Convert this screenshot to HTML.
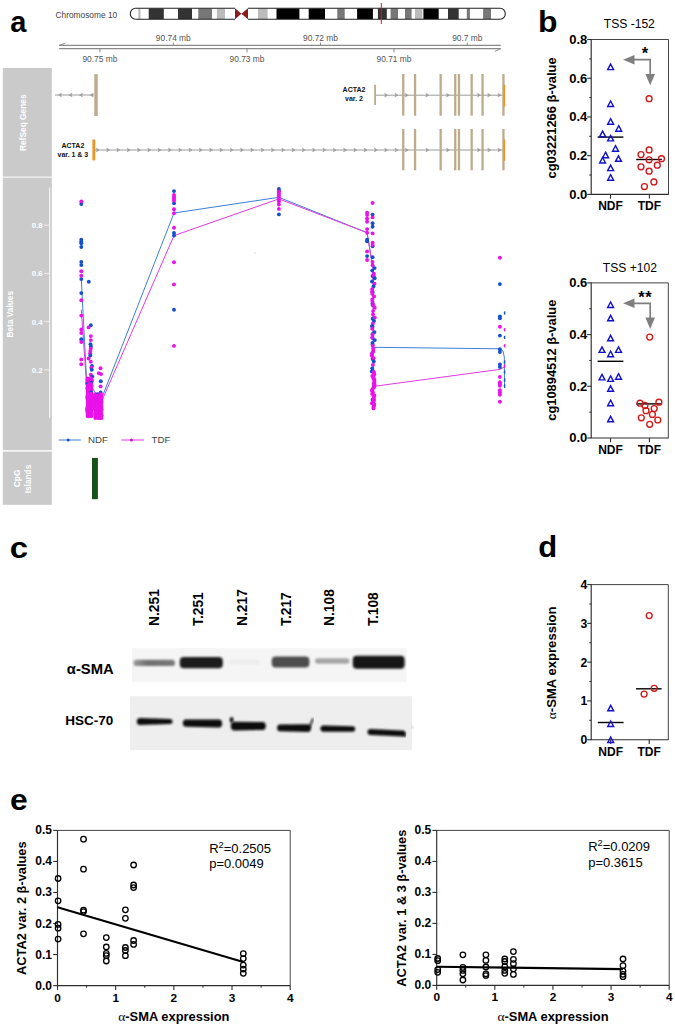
<!DOCTYPE html>
<html><head><meta charset="utf-8"><title>Figure</title>
<style>html,body{margin:0;padding:0;background:#fff;}svg{display:block;}</style></head>
<body><svg width="675" height="1026" viewBox="0 0 675 1026">
<rect width="675" height="1026" fill="#fff"/>
<text x="10.2" y="32.1" font-size="29" font-weight="bold" fill="#000" text-anchor="start" font-family='"Liberation Sans", sans-serif'>a</text>
<text x="55.5" y="17.8" font-size="8.35" font-weight="normal" fill="#444" text-anchor="start" font-family='"Liberation Sans", sans-serif'>Chromosome 10</text>
<clipPath id="ideo"><rect x="130.3" y="8.3" width="375.0" height="10.899999999999999" rx="5.2" ry="5.4"/></clipPath>
<rect x="130.3" y="8.3" width="375.0" height="10.899999999999999" rx="5.2" ry="5.4" fill="#fff"/>
<g clip-path="url(#ideo)">
<rect x="138.3" y="8.3" width="2.2" height="10.899999999999999" fill="#bbb"/>
<rect x="148.7" y="8.3" width="15.1" height="10.899999999999999" fill="#333"/>
<rect x="178" y="8.3" width="14" height="10.899999999999999" fill="#333"/>
<rect x="198.3" y="8.3" width="13.7" height="10.899999999999999" fill="#777"/>
<rect x="216.9" y="8.3" width="8.1" height="10.899999999999999" fill="#bbb"/>
<rect x="258" y="8.3" width="9.6" height="10.899999999999999" fill="#bbb"/>
<rect x="276.5" y="8.3" width="22.9" height="10.899999999999999" fill="#000"/>
<rect x="308.7" y="8.3" width="16.3" height="10.899999999999999" fill="#000"/>
<rect x="337.3" y="8.3" width="7.4" height="10.899999999999999" fill="#777"/>
<rect x="357.1" y="8.3" width="15.8" height="10.899999999999999" fill="#000"/>
<rect x="377.9" y="8.3" width="8.9" height="10.899999999999999" fill="#333"/>
<rect x="390.6" y="8.3" width="7.4" height="10.899999999999999" fill="#777"/>
<rect x="405" y="8.3" width="6.6" height="10.899999999999999" fill="#777"/>
<rect x="415" y="8.3" width="7.4" height="10.899999999999999" fill="#bbb"/>
<rect x="423.4" y="8.3" width="15.3" height="10.899999999999999" fill="#000"/>
<rect x="448" y="8.3" width="10.7" height="10.899999999999999" fill="#333"/>
<rect x="466.8" y="8.3" width="3.1" height="10.899999999999999" fill="#777"/>
<rect x="483.1" y="8.3" width="7.9" height="10.899999999999999" fill="#777"/>
</g>
<rect x="234.5" y="7.300000000000001" width="14" height="12.899999999999999" fill="#fff"/>
<path d="M235,8.3 L241.4,13.75 L235,19.2 Z M248,8.3 L241.4,13.75 L248,19.2 Z" fill="#8b1c1c"/>
<path d="M135.5,8.3 H235 M248,8.3 H500.1 M135.5,19.2 H235 M248,19.2 H500.1" stroke="#222" stroke-width="1.1" fill="none"/>
<path d="M135.5,8.3 A5.2,5.45 0 0 0 135.5,19.2 M500.1,8.3 A5.2,5.45 0 0 1 500.1,19.2" stroke="#222" stroke-width="1.1" fill="none"/>
<line x1="381.3" y1="3" x2="381.3" y2="24" stroke="#d42020" stroke-width="1"/>
<line x1="59.1" y1="45.4" x2="500.7" y2="45.4" stroke="#8a8a8a" stroke-width="1.25"/>
<line x1="59.1" y1="48.7" x2="500.7" y2="48.7" stroke="#8a8a8a" stroke-width="1.25"/>
<line x1="59.4" y1="45.4" x2="65.4" y2="43.0" stroke="#8a8a8a" stroke-width="1"/>
<line x1="500.7" y1="48.7" x2="494.8" y2="51.4" stroke="#8a8a8a" stroke-width="1"/>
<line x1="99.9" y1="48.7" x2="99.9" y2="52.4" stroke="#8a8a8a" stroke-width="1"/>
<text x="99.9" y="62.1" font-size="8.4" font-weight="normal" fill="#555" text-anchor="middle" font-family='"Liberation Sans", sans-serif'>90.75 mb</text>
<line x1="247" y1="48.7" x2="247" y2="52.4" stroke="#8a8a8a" stroke-width="1"/>
<text x="247" y="62.1" font-size="8.4" font-weight="normal" fill="#555" text-anchor="middle" font-family='"Liberation Sans", sans-serif'>90.73 mb</text>
<line x1="394" y1="48.7" x2="394" y2="52.4" stroke="#8a8a8a" stroke-width="1"/>
<text x="394" y="62.1" font-size="8.4" font-weight="normal" fill="#555" text-anchor="middle" font-family='"Liberation Sans", sans-serif'>90.71 mb</text>
<line x1="173.3" y1="45.4" x2="173.3" y2="42.5" stroke="#8a8a8a" stroke-width="1"/>
<text x="173.3" y="40.5" font-size="8.4" font-weight="normal" fill="#555" text-anchor="middle" font-family='"Liberation Sans", sans-serif'>90.74 mb</text>
<line x1="320.5" y1="45.4" x2="320.5" y2="42.5" stroke="#8a8a8a" stroke-width="1"/>
<text x="320.5" y="40.5" font-size="8.4" font-weight="normal" fill="#555" text-anchor="middle" font-family='"Liberation Sans", sans-serif'>90.72 mb</text>
<line x1="467.3" y1="45.4" x2="467.3" y2="42.5" stroke="#8a8a8a" stroke-width="1"/>
<text x="467.3" y="40.5" font-size="8.4" font-weight="normal" fill="#555" text-anchor="middle" font-family='"Liberation Sans", sans-serif'>90.7 mb</text>
<rect x="2.8" y="68" width="49" height="108.6" fill="#cacaca"/>
<rect x="2.8" y="177.6" width="49" height="272.6" fill="#cacaca"/>
<rect x="2.8" y="451.6" width="49" height="53.2" fill="#cacaca"/>
<text x="26.1" y="122.7" font-size="8.4" font-weight="bold" fill="#fff" text-anchor="middle" font-family='"Liberation Sans", sans-serif' transform="rotate(-90 26.1 122.7)">RefSeq Genes</text>
<text x="13.4" y="314.2" font-size="8.3" font-weight="bold" fill="#fff" text-anchor="middle" font-family='"Liberation Sans", sans-serif' transform="rotate(-90 13.4 314.2)">Beta Values</text>
<text x="19.9" y="478.4" font-size="8.3" font-weight="bold" fill="#fff" text-anchor="middle" font-family='"Liberation Sans", sans-serif' transform="rotate(-90 19.9 478.4)">CpG</text>
<text x="31.1" y="479" font-size="8.3" font-weight="bold" fill="#fff" text-anchor="middle" font-family='"Liberation Sans", sans-serif' transform="rotate(-90 31.1 479)">Islands</text>
<line x1="49.6" y1="187.8" x2="49.6" y2="417.8" stroke="#f4f4f4" stroke-width="1.2"/>
<line x1="44.1" y1="225.2" x2="49.5" y2="225.2" stroke="#f4f4f4" stroke-width="0.9"/>
<text x="42.6" y="228.1" font-size="7.8" font-weight="bold" fill="#fff" text-anchor="end" font-family='"Liberation Sans", sans-serif'>0.8</text>
<line x1="44.1" y1="273.4" x2="49.5" y2="273.4" stroke="#f4f4f4" stroke-width="0.9"/>
<text x="42.6" y="276.29999999999995" font-size="7.8" font-weight="bold" fill="#fff" text-anchor="end" font-family='"Liberation Sans", sans-serif'>0.6</text>
<line x1="44.1" y1="321.6" x2="49.5" y2="321.6" stroke="#f4f4f4" stroke-width="0.9"/>
<text x="42.6" y="324.5" font-size="7.8" font-weight="bold" fill="#fff" text-anchor="end" font-family='"Liberation Sans", sans-serif'>0.4</text>
<line x1="44.1" y1="369.8" x2="49.5" y2="369.8" stroke="#f4f4f4" stroke-width="0.9"/>
<text x="42.6" y="372.7" font-size="7.8" font-weight="bold" fill="#fff" text-anchor="end" font-family='"Liberation Sans", sans-serif'>0.2</text>
<line x1="55" y1="95" x2="94" y2="95" stroke="#9c9c9c" stroke-width="1"/>
<path d="M61.50,93.1 L58.50,95 L61.50,96.9 L60.70,95 Z" fill="#9c9c9c" stroke="#9c9c9c" stroke-width="0.5" stroke-linejoin="round"/>
<path d="M72.00,93.1 L69.00,95 L72.00,96.9 L71.20,95 Z" fill="#9c9c9c" stroke="#9c9c9c" stroke-width="0.5" stroke-linejoin="round"/>
<path d="M82.50,93.1 L79.50,95 L82.50,96.9 L81.70,95 Z" fill="#9c9c9c" stroke="#9c9c9c" stroke-width="0.5" stroke-linejoin="round"/>
<path d="M93.20,93.1 L90.20,95 L93.20,96.9 L92.40,95 Z" fill="#9c9c9c" stroke="#9c9c9c" stroke-width="0.5" stroke-linejoin="round"/>
<rect x="94.3" y="74.2" width="3.4" height="41.8" fill="#bcab8c"/>
<line x1="375" y1="95.2" x2="504" y2="95.2" stroke="#9c9c9c" stroke-width="1"/>
<rect x="374.2" y="84.8" width="1.8" height="20.2" fill="#bcab8c"/>
<path d="M384.70,93.3 L387.70,95.2 L384.70,97.10000000000001 L385.50,95.2 Z" fill="#9c9c9c" stroke="#9c9c9c" stroke-width="0.5" stroke-linejoin="round"/>
<path d="M395.00,93.3 L398.00,95.2 L395.00,97.10000000000001 L395.80,95.2 Z" fill="#9c9c9c" stroke="#9c9c9c" stroke-width="0.5" stroke-linejoin="round"/>
<path d="M405.30,93.3 L408.30,95.2 L405.30,97.10000000000001 L406.10,95.2 Z" fill="#9c9c9c" stroke="#9c9c9c" stroke-width="0.5" stroke-linejoin="round"/>
<path d="M425.90,93.3 L428.90,95.2 L425.90,97.10000000000001 L426.70,95.2 Z" fill="#9c9c9c" stroke="#9c9c9c" stroke-width="0.5" stroke-linejoin="round"/>
<path d="M446.50,93.3 L449.50,95.2 L446.50,97.10000000000001 L447.30,95.2 Z" fill="#9c9c9c" stroke="#9c9c9c" stroke-width="0.5" stroke-linejoin="round"/>
<path d="M477.40,93.3 L480.40,95.2 L477.40,97.10000000000001 L478.20,95.2 Z" fill="#9c9c9c" stroke="#9c9c9c" stroke-width="0.5" stroke-linejoin="round"/>
<path d="M487.70,93.3 L490.70,95.2 L487.70,97.10000000000001 L488.50,95.2 Z" fill="#9c9c9c" stroke="#9c9c9c" stroke-width="0.5" stroke-linejoin="round"/>
<path d="M498.00,93.3 L501.00,95.2 L498.00,97.10000000000001 L498.80,95.2 Z" fill="#9c9c9c" stroke="#9c9c9c" stroke-width="0.5" stroke-linejoin="round"/>
<rect x="402.09999999999997" y="74" width="2.3" height="41.7" fill="#bcab8c"/>
<rect x="413.9" y="74" width="2.3" height="41.7" fill="#bcab8c"/>
<rect x="439.5" y="74" width="2.3" height="41.7" fill="#bcab8c"/>
<rect x="454.09999999999997" y="74" width="2.3" height="41.7" fill="#bcab8c"/>
<rect x="457.79999999999995" y="74" width="2.3" height="41.7" fill="#bcab8c"/>
<rect x="470.5" y="74" width="2.3" height="41.7" fill="#bcab8c"/>
<rect x="481.4" y="74" width="2.3" height="41.7" fill="#bcab8c"/>
<rect x="502.29999999999995" y="74" width="2.3" height="41.7" fill="#bcab8c"/>
<rect x="503.6" y="84.8" width="1.6" height="21.6" fill="#e8962a"/>
<line x1="95" y1="150" x2="504" y2="150" stroke="#9c9c9c" stroke-width="1"/>
<rect x="92.4" y="139.5" width="2.9" height="20.9" fill="#e8962a"/>
<path d="M96.30,148.1 L99.30,150 L96.30,151.9 L97.10,150 Z" fill="#9c9c9c" stroke="#9c9c9c" stroke-width="0.5" stroke-linejoin="round"/>
<path d="M106.60,148.1 L109.60,150 L106.60,151.9 L107.40,150 Z" fill="#9c9c9c" stroke="#9c9c9c" stroke-width="0.5" stroke-linejoin="round"/>
<path d="M116.90,148.1 L119.90,150 L116.90,151.9 L117.70,150 Z" fill="#9c9c9c" stroke="#9c9c9c" stroke-width="0.5" stroke-linejoin="round"/>
<path d="M127.20,148.1 L130.20,150 L127.20,151.9 L128.00,150 Z" fill="#9c9c9c" stroke="#9c9c9c" stroke-width="0.5" stroke-linejoin="round"/>
<path d="M137.50,148.1 L140.50,150 L137.50,151.9 L138.30,150 Z" fill="#9c9c9c" stroke="#9c9c9c" stroke-width="0.5" stroke-linejoin="round"/>
<path d="M147.80,148.1 L150.80,150 L147.80,151.9 L148.60,150 Z" fill="#9c9c9c" stroke="#9c9c9c" stroke-width="0.5" stroke-linejoin="round"/>
<path d="M158.10,148.1 L161.10,150 L158.10,151.9 L158.90,150 Z" fill="#9c9c9c" stroke="#9c9c9c" stroke-width="0.5" stroke-linejoin="round"/>
<path d="M168.40,148.1 L171.40,150 L168.40,151.9 L169.20,150 Z" fill="#9c9c9c" stroke="#9c9c9c" stroke-width="0.5" stroke-linejoin="round"/>
<path d="M178.70,148.1 L181.70,150 L178.70,151.9 L179.50,150 Z" fill="#9c9c9c" stroke="#9c9c9c" stroke-width="0.5" stroke-linejoin="round"/>
<path d="M189.00,148.1 L192.00,150 L189.00,151.9 L189.80,150 Z" fill="#9c9c9c" stroke="#9c9c9c" stroke-width="0.5" stroke-linejoin="round"/>
<path d="M199.30,148.1 L202.30,150 L199.30,151.9 L200.10,150 Z" fill="#9c9c9c" stroke="#9c9c9c" stroke-width="0.5" stroke-linejoin="round"/>
<path d="M209.60,148.1 L212.60,150 L209.60,151.9 L210.40,150 Z" fill="#9c9c9c" stroke="#9c9c9c" stroke-width="0.5" stroke-linejoin="round"/>
<path d="M219.90,148.1 L222.90,150 L219.90,151.9 L220.70,150 Z" fill="#9c9c9c" stroke="#9c9c9c" stroke-width="0.5" stroke-linejoin="round"/>
<path d="M230.20,148.1 L233.20,150 L230.20,151.9 L231.00,150 Z" fill="#9c9c9c" stroke="#9c9c9c" stroke-width="0.5" stroke-linejoin="round"/>
<path d="M240.50,148.1 L243.50,150 L240.50,151.9 L241.30,150 Z" fill="#9c9c9c" stroke="#9c9c9c" stroke-width="0.5" stroke-linejoin="round"/>
<path d="M250.80,148.1 L253.80,150 L250.80,151.9 L251.60,150 Z" fill="#9c9c9c" stroke="#9c9c9c" stroke-width="0.5" stroke-linejoin="round"/>
<path d="M261.10,148.1 L264.10,150 L261.10,151.9 L261.90,150 Z" fill="#9c9c9c" stroke="#9c9c9c" stroke-width="0.5" stroke-linejoin="round"/>
<path d="M271.40,148.1 L274.40,150 L271.40,151.9 L272.20,150 Z" fill="#9c9c9c" stroke="#9c9c9c" stroke-width="0.5" stroke-linejoin="round"/>
<path d="M281.70,148.1 L284.70,150 L281.70,151.9 L282.50,150 Z" fill="#9c9c9c" stroke="#9c9c9c" stroke-width="0.5" stroke-linejoin="round"/>
<path d="M292.00,148.1 L295.00,150 L292.00,151.9 L292.80,150 Z" fill="#9c9c9c" stroke="#9c9c9c" stroke-width="0.5" stroke-linejoin="round"/>
<path d="M302.30,148.1 L305.30,150 L302.30,151.9 L303.10,150 Z" fill="#9c9c9c" stroke="#9c9c9c" stroke-width="0.5" stroke-linejoin="round"/>
<path d="M312.60,148.1 L315.60,150 L312.60,151.9 L313.40,150 Z" fill="#9c9c9c" stroke="#9c9c9c" stroke-width="0.5" stroke-linejoin="round"/>
<path d="M322.90,148.1 L325.90,150 L322.90,151.9 L323.70,150 Z" fill="#9c9c9c" stroke="#9c9c9c" stroke-width="0.5" stroke-linejoin="round"/>
<path d="M333.20,148.1 L336.20,150 L333.20,151.9 L334.00,150 Z" fill="#9c9c9c" stroke="#9c9c9c" stroke-width="0.5" stroke-linejoin="round"/>
<path d="M343.50,148.1 L346.50,150 L343.50,151.9 L344.30,150 Z" fill="#9c9c9c" stroke="#9c9c9c" stroke-width="0.5" stroke-linejoin="round"/>
<path d="M353.80,148.1 L356.80,150 L353.80,151.9 L354.60,150 Z" fill="#9c9c9c" stroke="#9c9c9c" stroke-width="0.5" stroke-linejoin="round"/>
<path d="M364.10,148.1 L367.10,150 L364.10,151.9 L364.90,150 Z" fill="#9c9c9c" stroke="#9c9c9c" stroke-width="0.5" stroke-linejoin="round"/>
<path d="M374.40,148.1 L377.40,150 L374.40,151.9 L375.20,150 Z" fill="#9c9c9c" stroke="#9c9c9c" stroke-width="0.5" stroke-linejoin="round"/>
<path d="M384.70,148.1 L387.70,150 L384.70,151.9 L385.50,150 Z" fill="#9c9c9c" stroke="#9c9c9c" stroke-width="0.5" stroke-linejoin="round"/>
<path d="M395.00,148.1 L398.00,150 L395.00,151.9 L395.80,150 Z" fill="#9c9c9c" stroke="#9c9c9c" stroke-width="0.5" stroke-linejoin="round"/>
<path d="M405.30,148.1 L408.30,150 L405.30,151.9 L406.10,150 Z" fill="#9c9c9c" stroke="#9c9c9c" stroke-width="0.5" stroke-linejoin="round"/>
<path d="M425.90,148.1 L428.90,150 L425.90,151.9 L426.70,150 Z" fill="#9c9c9c" stroke="#9c9c9c" stroke-width="0.5" stroke-linejoin="round"/>
<path d="M446.50,148.1 L449.50,150 L446.50,151.9 L447.30,150 Z" fill="#9c9c9c" stroke="#9c9c9c" stroke-width="0.5" stroke-linejoin="round"/>
<path d="M477.40,148.1 L480.40,150 L477.40,151.9 L478.20,150 Z" fill="#9c9c9c" stroke="#9c9c9c" stroke-width="0.5" stroke-linejoin="round"/>
<path d="M487.70,148.1 L490.70,150 L487.70,151.9 L488.50,150 Z" fill="#9c9c9c" stroke="#9c9c9c" stroke-width="0.5" stroke-linejoin="round"/>
<path d="M498.00,148.1 L501.00,150 L498.00,151.9 L498.80,150 Z" fill="#9c9c9c" stroke="#9c9c9c" stroke-width="0.5" stroke-linejoin="round"/>
<rect x="402.09999999999997" y="129" width="2.3" height="41.3" fill="#bcab8c"/>
<rect x="413.9" y="129" width="2.3" height="41.3" fill="#bcab8c"/>
<rect x="439.5" y="129" width="2.3" height="41.3" fill="#bcab8c"/>
<rect x="454.09999999999997" y="129" width="2.3" height="41.3" fill="#bcab8c"/>
<rect x="457.79999999999995" y="129" width="2.3" height="41.3" fill="#bcab8c"/>
<rect x="470.5" y="129" width="2.3" height="41.3" fill="#bcab8c"/>
<rect x="481.4" y="129" width="2.3" height="41.3" fill="#bcab8c"/>
<rect x="502.29999999999995" y="129" width="2.3" height="41.3" fill="#bcab8c"/>
<rect x="503.6" y="139.4" width="1.6" height="21.4" fill="#e8962a"/>
<text x="354" y="92" font-size="7" font-weight="bold" fill="#111" text-anchor="middle" font-family='"Liberation Sans", sans-serif'>ACTA2</text>
<text x="354" y="101.3" font-size="7" font-weight="bold" fill="#111" text-anchor="middle" font-family='"Liberation Sans", sans-serif'>var.  2</text>
<text x="72.9" y="147.6" font-size="7" font-weight="bold" fill="#111" text-anchor="middle" font-family='"Liberation Sans", sans-serif'>ACTA2</text>
<text x="72.9" y="156.9" font-size="7" font-weight="bold" fill="#111" text-anchor="middle" font-family='"Liberation Sans", sans-serif'>var.  1 &amp; 3</text>
<clipPath id="betaclip"><rect x="52" y="177" width="453.3" height="260"/></clipPath>
<g clip-path="url(#betaclip)">
<polyline points="81.3,279.1 86.6,380.7 95,392 101.0,400.0 174,213.0 278.9,197.3 367.1,232.7 373,268.9 373.4,347.3 499.9,348.8 503,351 504.3,357 504.5,388" fill="none" stroke="#3d7fd6" stroke-width="1"/>
<polyline points="81.3,309.8 86.6,385 95,398 101.4,401.8 174,235.6 278.9,198.9 367.1,232.7 373,268.9 373.4,386.4 499.9,369.4 504.5,367" fill="none" stroke="#e03ae0" stroke-width="1"/>
<circle cx="81.3" cy="204.0" r="1.95" fill="#1450cc"/>
<circle cx="81.3" cy="239.7" r="1.95" fill="#1450cc"/>
<circle cx="81.3" cy="241.7" r="1.95" fill="#1450cc"/>
<circle cx="81.3" cy="243.2" r="1.95" fill="#1450cc"/>
<circle cx="81.3" cy="247.0" r="1.95" fill="#1450cc"/>
<circle cx="81.3" cy="262.0" r="1.95" fill="#1450cc"/>
<circle cx="81.3" cy="265.1" r="1.95" fill="#1450cc"/>
<circle cx="81.3" cy="279.1" r="1.95" fill="#1450cc"/>
<circle cx="81.3" cy="293.1" r="1.95" fill="#1450cc"/>
<circle cx="81.3" cy="339.2" r="1.95" fill="#1450cc"/>
<circle cx="81.3" cy="201.4" r="1.95" fill="#ea12ea"/>
<circle cx="81.3" cy="271.3" r="1.95" fill="#ea12ea"/>
<circle cx="81.3" cy="275.7" r="1.95" fill="#ea12ea"/>
<circle cx="81.3" cy="300.3" r="1.95" fill="#ea12ea"/>
<circle cx="81.3" cy="315.6" r="1.95" fill="#ea12ea"/>
<circle cx="81.3" cy="329.5" r="1.95" fill="#ea12ea"/>
<circle cx="81.3" cy="333.0" r="1.95" fill="#ea12ea"/>
<circle cx="81.3" cy="342.0" r="1.95" fill="#ea12ea"/>
<circle cx="81.3" cy="359.5" r="1.95" fill="#ea12ea"/>
<circle cx="81.3" cy="364.2" r="1.95" fill="#ea12ea"/>
<circle cx="88.8" cy="281.8" r="1.95" fill="#1450cc"/>
<circle cx="90.8" cy="325.2" r="1.95" fill="#1450cc"/>
<circle cx="88.6" cy="327.4" r="1.95" fill="#ea12ea"/>
<circle cx="90.8" cy="336.1" r="1.95" fill="#ea12ea"/>
<circle cx="90.8" cy="340.1" r="1.95" fill="#ea12ea"/>
<circle cx="90.5" cy="344.2" r="1.95" fill="#1450cc"/>
<circle cx="90.9" cy="346.5" r="1.95" fill="#1450cc"/>
<circle cx="90.7" cy="348.8" r="1.95" fill="#ea12ea"/>
<circle cx="90.3" cy="351.0" r="1.95" fill="#ea12ea"/>
<circle cx="90.2" cy="353.2" r="1.95" fill="#ea12ea"/>
<circle cx="90.3" cy="355.5" r="1.95" fill="#1450cc"/>
<circle cx="88.6" cy="358.5" r="1.95" fill="#ea12ea"/>
<circle cx="90.8" cy="361.7" r="1.95" fill="#ea12ea"/>
<circle cx="92.0" cy="366.0" r="1.95" fill="#1450cc"/>
<circle cx="91.3" cy="367.8" r="1.95" fill="#ea12ea"/>
<circle cx="91.8" cy="369.8" r="1.95" fill="#1450cc"/>
<circle cx="90.8" cy="374.8" r="1.95" fill="#ea12ea"/>
<circle cx="92.3" cy="376.6" r="1.95" fill="#1450cc"/>
<circle cx="100.5" cy="368.2" r="1.95" fill="#ea12ea"/>
<circle cx="98.9" cy="373.2" r="1.95" fill="#ea12ea"/>
<circle cx="101.1" cy="374.1" r="1.95" fill="#ea12ea"/>
<circle cx="100.8" cy="381.2" r="1.95" fill="#1450cc"/>
<circle cx="100.6" cy="386.4" r="1.95" fill="#ea12ea"/>
<circle cx="100.6" cy="392.5" r="1.95" fill="#1450cc"/>
<circle cx="87.5" cy="378.5" r="1.95" fill="#ea12ea"/>
<circle cx="89.9" cy="378.5" r="1.95" fill="#ea12ea"/>
<circle cx="91.1" cy="378.5" r="1.95" fill="#ea12ea"/>
<circle cx="87.4" cy="379.9" r="1.95" fill="#ea12ea"/>
<circle cx="89.7" cy="379.9" r="1.95" fill="#ea12ea"/>
<circle cx="91.8" cy="379.9" r="1.95" fill="#ea12ea"/>
<circle cx="87.7" cy="381.3" r="1.95" fill="#ea12ea"/>
<circle cx="89.5" cy="381.3" r="1.95" fill="#ea12ea"/>
<circle cx="91.8" cy="381.3" r="1.95" fill="#ea12ea"/>
<circle cx="87.2" cy="382.7" r="1.95" fill="#ea12ea"/>
<circle cx="89.9" cy="382.7" r="1.95" fill="#ea12ea"/>
<circle cx="91.2" cy="382.7" r="1.95" fill="#1450cc"/>
<circle cx="87.3" cy="384.1" r="1.95" fill="#1450cc"/>
<circle cx="89.3" cy="384.1" r="1.95" fill="#ea12ea"/>
<circle cx="91.2" cy="384.1" r="1.95" fill="#ea12ea"/>
<circle cx="87.9" cy="385.5" r="1.95" fill="#ea12ea"/>
<circle cx="89.3" cy="385.5" r="1.95" fill="#ea12ea"/>
<circle cx="91.5" cy="385.5" r="1.95" fill="#ea12ea"/>
<circle cx="87.7" cy="386.9" r="1.95" fill="#ea12ea"/>
<circle cx="89.5" cy="386.9" r="1.95" fill="#ea12ea"/>
<circle cx="91.4" cy="386.9" r="1.95" fill="#ea12ea"/>
<circle cx="87.3" cy="388.3" r="1.95" fill="#ea12ea"/>
<circle cx="89.2" cy="388.3" r="1.95" fill="#ea12ea"/>
<circle cx="91.2" cy="388.3" r="1.95" fill="#ea12ea"/>
<circle cx="87.7" cy="389.7" r="1.95" fill="#ea12ea"/>
<circle cx="89.5" cy="389.7" r="1.95" fill="#ea12ea"/>
<circle cx="91.3" cy="389.7" r="1.95" fill="#ea12ea"/>
<circle cx="87.7" cy="391.1" r="1.95" fill="#ea12ea"/>
<circle cx="89.6" cy="391.1" r="1.95" fill="#ea12ea"/>
<circle cx="91.2" cy="391.1" r="1.95" fill="#ea12ea"/>
<circle cx="87.8" cy="392.5" r="1.95" fill="#ea12ea"/>
<circle cx="89.8" cy="392.5" r="1.95" fill="#ea12ea"/>
<circle cx="91.2" cy="392.5" r="1.95" fill="#1450cc"/>
<circle cx="87.7" cy="393.9" r="1.95" fill="#ea12ea"/>
<circle cx="89.6" cy="393.9" r="1.95" fill="#ea12ea"/>
<circle cx="91.7" cy="393.9" r="1.95" fill="#ea12ea"/>
<circle cx="87.8" cy="395.3" r="1.95" fill="#ea12ea"/>
<circle cx="89.4" cy="395.3" r="1.95" fill="#ea12ea"/>
<circle cx="91.8" cy="395.3" r="1.95" fill="#ea12ea"/>
<circle cx="87.3" cy="396.7" r="1.95" fill="#ea12ea"/>
<circle cx="89.5" cy="396.7" r="1.95" fill="#ea12ea"/>
<circle cx="91.6" cy="396.7" r="1.95" fill="#ea12ea"/>
<circle cx="87.3" cy="398.1" r="1.95" fill="#ea12ea"/>
<circle cx="89.6" cy="398.1" r="1.95" fill="#ea12ea"/>
<circle cx="91.0" cy="398.1" r="1.95" fill="#ea12ea"/>
<circle cx="87.7" cy="399.5" r="1.95" fill="#ea12ea"/>
<circle cx="89.8" cy="399.5" r="1.95" fill="#ea12ea"/>
<circle cx="91.5" cy="399.5" r="1.95" fill="#ea12ea"/>
<circle cx="87.9" cy="400.9" r="1.95" fill="#ea12ea"/>
<circle cx="89.5" cy="400.9" r="1.95" fill="#ea12ea"/>
<circle cx="91.6" cy="400.9" r="1.95" fill="#ea12ea"/>
<circle cx="87.7" cy="402.3" r="1.95" fill="#ea12ea"/>
<circle cx="89.7" cy="402.3" r="1.95" fill="#ea12ea"/>
<circle cx="91.4" cy="402.3" r="1.95" fill="#ea12ea"/>
<circle cx="87.9" cy="403.7" r="1.95" fill="#ea12ea"/>
<circle cx="90.0" cy="403.7" r="1.95" fill="#ea12ea"/>
<circle cx="91.4" cy="403.7" r="1.95" fill="#ea12ea"/>
<circle cx="87.7" cy="405.1" r="1.95" fill="#ea12ea"/>
<circle cx="89.2" cy="405.1" r="1.95" fill="#ea12ea"/>
<circle cx="91.6" cy="405.1" r="1.95" fill="#ea12ea"/>
<circle cx="87.7" cy="406.5" r="1.95" fill="#ea12ea"/>
<circle cx="90.0" cy="406.5" r="1.95" fill="#ea12ea"/>
<circle cx="91.7" cy="406.5" r="1.95" fill="#ea12ea"/>
<circle cx="87.4" cy="407.9" r="1.95" fill="#ea12ea"/>
<circle cx="89.5" cy="407.9" r="1.95" fill="#ea12ea"/>
<circle cx="91.5" cy="407.9" r="1.95" fill="#ea12ea"/>
<circle cx="87.2" cy="409.3" r="1.95" fill="#ea12ea"/>
<circle cx="89.6" cy="409.3" r="1.95" fill="#ea12ea"/>
<circle cx="91.1" cy="409.3" r="1.95" fill="#ea12ea"/>
<circle cx="87.3" cy="410.7" r="1.95" fill="#ea12ea"/>
<circle cx="89.2" cy="410.7" r="1.95" fill="#ea12ea"/>
<circle cx="91.6" cy="410.7" r="1.95" fill="#ea12ea"/>
<circle cx="87.3" cy="412.1" r="1.95" fill="#ea12ea"/>
<circle cx="89.4" cy="412.1" r="1.95" fill="#ea12ea"/>
<circle cx="91.3" cy="412.1" r="1.95" fill="#ea12ea"/>
<circle cx="87.9" cy="413.5" r="1.95" fill="#ea12ea"/>
<circle cx="89.3" cy="413.5" r="1.95" fill="#ea12ea"/>
<circle cx="91.4" cy="413.5" r="1.95" fill="#ea12ea"/>
<circle cx="87.6" cy="414.9" r="1.95" fill="#ea12ea"/>
<circle cx="89.9" cy="414.9" r="1.95" fill="#ea12ea"/>
<circle cx="91.7" cy="414.9" r="1.95" fill="#ea12ea"/>
<circle cx="87.9" cy="416.3" r="1.95" fill="#ea12ea"/>
<circle cx="89.4" cy="416.3" r="1.95" fill="#ea12ea"/>
<circle cx="91.3" cy="416.3" r="1.95" fill="#ea12ea"/>
<circle cx="95.5" cy="394.2" r="1.95" fill="#ea12ea"/>
<circle cx="97.9" cy="394.2" r="1.95" fill="#1450cc"/>
<circle cx="100.0" cy="394.2" r="1.95" fill="#ea12ea"/>
<circle cx="100.9" cy="394.2" r="1.95" fill="#ea12ea"/>
<circle cx="95.3" cy="395.6" r="1.95" fill="#ea12ea"/>
<circle cx="97.4" cy="395.6" r="1.95" fill="#ea12ea"/>
<circle cx="99.4" cy="395.6" r="1.95" fill="#ea12ea"/>
<circle cx="101.2" cy="395.6" r="1.95" fill="#ea12ea"/>
<circle cx="95.7" cy="397.0" r="1.95" fill="#ea12ea"/>
<circle cx="97.4" cy="397.0" r="1.95" fill="#ea12ea"/>
<circle cx="99.2" cy="397.0" r="1.95" fill="#ea12ea"/>
<circle cx="101.1" cy="397.0" r="1.95" fill="#ea12ea"/>
<circle cx="95.5" cy="398.4" r="1.95" fill="#ea12ea"/>
<circle cx="97.7" cy="398.4" r="1.95" fill="#ea12ea"/>
<circle cx="100.0" cy="398.4" r="1.95" fill="#ea12ea"/>
<circle cx="101.4" cy="398.4" r="1.95" fill="#ea12ea"/>
<circle cx="95.6" cy="399.8" r="1.95" fill="#ea12ea"/>
<circle cx="97.7" cy="399.8" r="1.95" fill="#ea12ea"/>
<circle cx="99.7" cy="399.8" r="1.95" fill="#ea12ea"/>
<circle cx="100.8" cy="399.8" r="1.95" fill="#ea12ea"/>
<circle cx="95.9" cy="401.2" r="1.95" fill="#ea12ea"/>
<circle cx="97.8" cy="401.2" r="1.95" fill="#ea12ea"/>
<circle cx="99.9" cy="401.2" r="1.95" fill="#ea12ea"/>
<circle cx="101.4" cy="401.2" r="1.95" fill="#ea12ea"/>
<circle cx="95.5" cy="402.6" r="1.95" fill="#ea12ea"/>
<circle cx="97.5" cy="402.6" r="1.95" fill="#ea12ea"/>
<circle cx="99.3" cy="402.6" r="1.95" fill="#ea12ea"/>
<circle cx="101.3" cy="402.6" r="1.95" fill="#ea12ea"/>
<circle cx="95.2" cy="404.0" r="1.95" fill="#ea12ea"/>
<circle cx="97.3" cy="404.0" r="1.95" fill="#ea12ea"/>
<circle cx="99.4" cy="404.0" r="1.95" fill="#ea12ea"/>
<circle cx="100.9" cy="404.0" r="1.95" fill="#ea12ea"/>
<circle cx="95.5" cy="405.4" r="1.95" fill="#ea12ea"/>
<circle cx="97.2" cy="405.4" r="1.95" fill="#ea12ea"/>
<circle cx="99.2" cy="405.4" r="1.95" fill="#ea12ea"/>
<circle cx="100.9" cy="405.4" r="1.95" fill="#ea12ea"/>
<circle cx="95.3" cy="406.8" r="1.95" fill="#ea12ea"/>
<circle cx="97.5" cy="406.8" r="1.95" fill="#ea12ea"/>
<circle cx="99.2" cy="406.8" r="1.95" fill="#ea12ea"/>
<circle cx="101.5" cy="406.8" r="1.95" fill="#ea12ea"/>
<circle cx="95.7" cy="408.2" r="1.95" fill="#ea12ea"/>
<circle cx="97.3" cy="408.2" r="1.95" fill="#ea12ea"/>
<circle cx="99.4" cy="408.2" r="1.95" fill="#ea12ea"/>
<circle cx="101.1" cy="408.2" r="1.95" fill="#ea12ea"/>
<circle cx="95.5" cy="409.6" r="1.95" fill="#ea12ea"/>
<circle cx="97.3" cy="409.6" r="1.95" fill="#ea12ea"/>
<circle cx="99.9" cy="409.6" r="1.95" fill="#ea12ea"/>
<circle cx="101.6" cy="409.6" r="1.95" fill="#ea12ea"/>
<circle cx="95.6" cy="411.0" r="1.95" fill="#ea12ea"/>
<circle cx="97.6" cy="411.0" r="1.95" fill="#ea12ea"/>
<circle cx="99.3" cy="411.0" r="1.95" fill="#ea12ea"/>
<circle cx="100.9" cy="411.0" r="1.95" fill="#ea12ea"/>
<circle cx="95.5" cy="412.4" r="1.95" fill="#ea12ea"/>
<circle cx="97.4" cy="412.4" r="1.95" fill="#ea12ea"/>
<circle cx="99.9" cy="412.4" r="1.95" fill="#ea12ea"/>
<circle cx="100.9" cy="412.4" r="1.95" fill="#ea12ea"/>
<circle cx="95.2" cy="413.8" r="1.95" fill="#ea12ea"/>
<circle cx="98.0" cy="413.8" r="1.95" fill="#ea12ea"/>
<circle cx="99.6" cy="413.8" r="1.95" fill="#ea12ea"/>
<circle cx="100.9" cy="413.8" r="1.95" fill="#ea12ea"/>
<circle cx="95.6" cy="415.2" r="1.95" fill="#ea12ea"/>
<circle cx="97.2" cy="415.2" r="1.95" fill="#ea12ea"/>
<circle cx="99.6" cy="415.2" r="1.95" fill="#ea12ea"/>
<circle cx="101.6" cy="415.2" r="1.95" fill="#ea12ea"/>
<circle cx="95.9" cy="416.6" r="1.95" fill="#ea12ea"/>
<circle cx="97.8" cy="416.6" r="1.95" fill="#ea12ea"/>
<circle cx="99.4" cy="416.6" r="1.95" fill="#ea12ea"/>
<circle cx="101.1" cy="416.6" r="1.95" fill="#ea12ea"/>
<circle cx="95.3" cy="418.0" r="1.95" fill="#ea12ea"/>
<circle cx="97.8" cy="418.0" r="1.95" fill="#ea12ea"/>
<circle cx="99.6" cy="418.0" r="1.95" fill="#ea12ea"/>
<circle cx="101.4" cy="418.0" r="1.95" fill="#ea12ea"/>
<circle cx="93.5" cy="396.0" r="1.95" fill="#ea12ea"/>
<circle cx="93.5" cy="398.0" r="1.95" fill="#ea12ea"/>
<circle cx="93.5" cy="400.0" r="1.95" fill="#ea12ea"/>
<circle cx="93.5" cy="402.0" r="1.95" fill="#ea12ea"/>
<circle cx="93.5" cy="404.0" r="1.95" fill="#ea12ea"/>
<circle cx="93.5" cy="406.0" r="1.95" fill="#ea12ea"/>
<circle cx="93.5" cy="408.0" r="1.95" fill="#ea12ea"/>
<circle cx="174.0" cy="191.1" r="1.95" fill="#1450cc"/>
<circle cx="174.0" cy="203.3" r="1.95" fill="#1450cc"/>
<circle cx="174.0" cy="232.9" r="1.95" fill="#1450cc"/>
<circle cx="174.0" cy="235.6" r="1.95" fill="#1450cc"/>
<circle cx="174.0" cy="309.8" r="1.95" fill="#1450cc"/>
<circle cx="174.0" cy="195.0" r="1.95" fill="#ea12ea"/>
<circle cx="174.0" cy="196.8" r="1.95" fill="#ea12ea"/>
<circle cx="174.0" cy="198.6" r="1.95" fill="#ea12ea"/>
<circle cx="174.0" cy="200.5" r="1.95" fill="#ea12ea"/>
<circle cx="174.0" cy="209.3" r="1.95" fill="#ea12ea"/>
<circle cx="174.0" cy="213.3" r="1.95" fill="#ea12ea"/>
<circle cx="174.0" cy="227.8" r="1.95" fill="#ea12ea"/>
<circle cx="174.0" cy="262.2" r="1.95" fill="#ea12ea"/>
<circle cx="174.0" cy="284.4" r="1.95" fill="#ea12ea"/>
<circle cx="174.0" cy="345.9" r="1.95" fill="#ea12ea"/>
<circle cx="278.9" cy="188.9" r="1.95" fill="#1450cc"/>
<circle cx="278.9" cy="190.8" r="1.95" fill="#1450cc"/>
<circle cx="278.9" cy="214.4" r="1.95" fill="#1450cc"/>
<circle cx="278.9" cy="191.5" r="1.95" fill="#ea12ea"/>
<circle cx="278.9" cy="193.5" r="1.95" fill="#ea12ea"/>
<circle cx="278.9" cy="195.5" r="1.95" fill="#ea12ea"/>
<circle cx="278.9" cy="197.5" r="1.95" fill="#ea12ea"/>
<circle cx="278.9" cy="199.5" r="1.95" fill="#ea12ea"/>
<circle cx="278.9" cy="201.5" r="1.95" fill="#ea12ea"/>
<circle cx="278.9" cy="204.5" r="1.95" fill="#ea12ea"/>
<circle cx="278.9" cy="208.9" r="1.95" fill="#ea12ea"/>
<circle cx="367.1" cy="239.7" r="1.95" fill="#1450cc"/>
<circle cx="367.1" cy="241.3" r="1.95" fill="#1450cc"/>
<circle cx="367.1" cy="256.1" r="1.95" fill="#1450cc"/>
<circle cx="367.1" cy="212.8" r="1.95" fill="#ea12ea"/>
<circle cx="367.1" cy="215.1" r="1.95" fill="#ea12ea"/>
<circle cx="367.1" cy="218.6" r="1.95" fill="#ea12ea"/>
<circle cx="367.1" cy="221.7" r="1.95" fill="#ea12ea"/>
<circle cx="367.1" cy="229.1" r="1.95" fill="#ea12ea"/>
<circle cx="367.1" cy="232.7" r="1.95" fill="#ea12ea"/>
<circle cx="367.1" cy="251.4" r="1.95" fill="#ea12ea"/>
<circle cx="367.1" cy="260.0" r="1.95" fill="#ea12ea"/>
<circle cx="372.6" cy="214.6" r="1.95" fill="#1450cc"/>
<circle cx="372.6" cy="223.3" r="1.95" fill="#1450cc"/>
<circle cx="372.6" cy="226.8" r="1.95" fill="#1450cc"/>
<circle cx="372.6" cy="246.2" r="1.95" fill="#1450cc"/>
<circle cx="372.6" cy="257.2" r="1.95" fill="#1450cc"/>
<circle cx="372.6" cy="276.0" r="1.95" fill="#1450cc"/>
<circle cx="372.6" cy="292.3" r="1.95" fill="#1450cc"/>
<circle cx="372.6" cy="303.3" r="1.95" fill="#1450cc"/>
<circle cx="372.6" cy="305.0" r="1.95" fill="#1450cc"/>
<circle cx="372.6" cy="318.8" r="1.95" fill="#1450cc"/>
<circle cx="372.6" cy="326.7" r="1.95" fill="#1450cc"/>
<circle cx="372.6" cy="334.0" r="1.95" fill="#1450cc"/>
<circle cx="372.6" cy="337.9" r="1.95" fill="#1450cc"/>
<circle cx="372.6" cy="344.5" r="1.95" fill="#1450cc"/>
<circle cx="372.6" cy="352.4" r="1.95" fill="#1450cc"/>
<circle cx="372.6" cy="359.0" r="1.95" fill="#1450cc"/>
<circle cx="372.6" cy="370.8" r="1.95" fill="#1450cc"/>
<circle cx="372.6" cy="399.7" r="1.95" fill="#1450cc"/>
<circle cx="372.6" cy="203.0" r="1.95" fill="#ea12ea"/>
<circle cx="372.6" cy="217.4" r="1.95" fill="#ea12ea"/>
<circle cx="372.6" cy="233.4" r="1.95" fill="#ea12ea"/>
<circle cx="372.6" cy="242.7" r="1.95" fill="#ea12ea"/>
<circle cx="372.6" cy="245.0" r="1.95" fill="#ea12ea"/>
<circle cx="372.5" cy="262.0" r="1.95" fill="#ea12ea"/>
<circle cx="372.6" cy="265.3" r="1.95" fill="#ea12ea"/>
<circle cx="374.6" cy="268.1" r="1.95" fill="#1450cc"/>
<circle cx="372.2" cy="270.6" r="1.95" fill="#1450cc"/>
<circle cx="373.9" cy="273.6" r="1.95" fill="#ea12ea"/>
<circle cx="373.9" cy="275.9" r="1.95" fill="#ea12ea"/>
<circle cx="374.7" cy="278.2" r="1.95" fill="#1450cc"/>
<circle cx="372.0" cy="281.5" r="1.95" fill="#1450cc"/>
<circle cx="374.5" cy="283.8" r="1.95" fill="#ea12ea"/>
<circle cx="373.5" cy="286.5" r="1.95" fill="#1450cc"/>
<circle cx="372.1" cy="289.1" r="1.95" fill="#ea12ea"/>
<circle cx="372.1" cy="291.6" r="1.95" fill="#ea12ea"/>
<circle cx="372.3" cy="293.9" r="1.95" fill="#ea12ea"/>
<circle cx="374.1" cy="296.5" r="1.95" fill="#ea12ea"/>
<circle cx="372.3" cy="299.4" r="1.95" fill="#ea12ea"/>
<circle cx="372.5" cy="301.6" r="1.95" fill="#ea12ea"/>
<circle cx="373.5" cy="304.9" r="1.95" fill="#ea12ea"/>
<circle cx="374.7" cy="307.7" r="1.95" fill="#ea12ea"/>
<circle cx="373.1" cy="311.1" r="1.95" fill="#ea12ea"/>
<circle cx="373.0" cy="314.5" r="1.95" fill="#ea12ea"/>
<circle cx="374.8" cy="317.6" r="1.95" fill="#ea12ea"/>
<circle cx="374.0" cy="321.0" r="1.95" fill="#1450cc"/>
<circle cx="372.8" cy="323.7" r="1.95" fill="#ea12ea"/>
<circle cx="371.9" cy="326.1" r="1.95" fill="#1450cc"/>
<circle cx="372.2" cy="328.7" r="1.95" fill="#ea12ea"/>
<circle cx="374.5" cy="332.1" r="1.95" fill="#1450cc"/>
<circle cx="372.5" cy="334.7" r="1.95" fill="#ea12ea"/>
<circle cx="372.2" cy="337.5" r="1.95" fill="#ea12ea"/>
<circle cx="374.8" cy="340.1" r="1.95" fill="#1450cc"/>
<circle cx="372.5" cy="343.0" r="1.95" fill="#1450cc"/>
<circle cx="372.8" cy="345.7" r="1.95" fill="#ea12ea"/>
<circle cx="373.2" cy="348.4" r="1.95" fill="#ea12ea"/>
<circle cx="373.3" cy="350.9" r="1.95" fill="#ea12ea"/>
<circle cx="372.0" cy="353.5" r="1.95" fill="#ea12ea"/>
<circle cx="371.8" cy="355.7" r="1.95" fill="#ea12ea"/>
<circle cx="373.6" cy="358.2" r="1.95" fill="#ea12ea"/>
<circle cx="373.8" cy="361.5" r="1.95" fill="#1450cc"/>
<circle cx="372.9" cy="364.9" r="1.95" fill="#ea12ea"/>
<circle cx="372.2" cy="368.5" r="1.95" fill="#1450cc"/>
<circle cx="371.8" cy="371.6" r="1.95" fill="#1450cc"/>
<circle cx="373.8" cy="372.0" r="1.95" fill="#ea12ea"/>
<circle cx="374.1" cy="373.3" r="1.95" fill="#ea12ea"/>
<circle cx="374.3" cy="374.6" r="1.95" fill="#ea12ea"/>
<circle cx="372.3" cy="375.9" r="1.95" fill="#ea12ea"/>
<circle cx="373.5" cy="377.2" r="1.95" fill="#ea12ea"/>
<circle cx="373.4" cy="378.5" r="1.95" fill="#ea12ea"/>
<circle cx="374.4" cy="379.8" r="1.95" fill="#ea12ea"/>
<circle cx="374.3" cy="381.1" r="1.95" fill="#ea12ea"/>
<circle cx="374.4" cy="382.4" r="1.95" fill="#ea12ea"/>
<circle cx="373.7" cy="383.7" r="1.95" fill="#ea12ea"/>
<circle cx="374.6" cy="385.0" r="1.95" fill="#ea12ea"/>
<circle cx="373.9" cy="386.3" r="1.95" fill="#ea12ea"/>
<circle cx="374.0" cy="387.6" r="1.95" fill="#ea12ea"/>
<circle cx="372.6" cy="388.9" r="1.95" fill="#ea12ea"/>
<circle cx="372.0" cy="390.2" r="1.95" fill="#ea12ea"/>
<circle cx="372.3" cy="391.5" r="1.95" fill="#ea12ea"/>
<circle cx="373.0" cy="392.8" r="1.95" fill="#ea12ea"/>
<circle cx="372.2" cy="394.1" r="1.95" fill="#ea12ea"/>
<circle cx="374.4" cy="395.4" r="1.95" fill="#ea12ea"/>
<circle cx="373.6" cy="396.7" r="1.95" fill="#ea12ea"/>
<circle cx="373.8" cy="398.0" r="1.95" fill="#ea12ea"/>
<circle cx="373.8" cy="399.3" r="1.95" fill="#ea12ea"/>
<circle cx="373.9" cy="400.6" r="1.95" fill="#ea12ea"/>
<circle cx="373.4" cy="401.9" r="1.95" fill="#ea12ea"/>
<circle cx="371.9" cy="403.2" r="1.95" fill="#ea12ea"/>
<circle cx="374.3" cy="404.5" r="1.95" fill="#ea12ea"/>
<circle cx="374.1" cy="405.8" r="1.95" fill="#ea12ea"/>
<circle cx="373.4" cy="407.1" r="1.95" fill="#ea12ea"/>
<circle cx="373.5" cy="408.4" r="1.95" fill="#ea12ea"/>
<circle cx="499.9" cy="284.1" r="1.95" fill="#1450cc"/>
<circle cx="499.9" cy="316.4" r="1.95" fill="#1450cc"/>
<circle cx="499.9" cy="318.2" r="1.95" fill="#1450cc"/>
<circle cx="499.9" cy="335.6" r="1.95" fill="#1450cc"/>
<circle cx="499.9" cy="349.3" r="1.95" fill="#1450cc"/>
<circle cx="499.9" cy="352.0" r="1.95" fill="#1450cc"/>
<circle cx="499.9" cy="364.4" r="1.95" fill="#1450cc"/>
<circle cx="499.9" cy="367.1" r="1.95" fill="#1450cc"/>
<circle cx="499.9" cy="257.8" r="1.95" fill="#ea12ea"/>
<circle cx="499.9" cy="326.8" r="1.95" fill="#ea12ea"/>
<circle cx="499.9" cy="376.9" r="1.95" fill="#ea12ea"/>
<circle cx="499.9" cy="382.2" r="1.95" fill="#ea12ea"/>
<circle cx="499.9" cy="384.0" r="1.95" fill="#ea12ea"/>
<circle cx="499.9" cy="385.8" r="1.95" fill="#ea12ea"/>
<circle cx="499.9" cy="390.2" r="1.95" fill="#ea12ea"/>
<circle cx="499.9" cy="392.5" r="1.95" fill="#ea12ea"/>
<circle cx="499.9" cy="394.7" r="1.95" fill="#ea12ea"/>
<circle cx="499.9" cy="401.8" r="1.95" fill="#ea12ea"/>
<circle cx="505.6" cy="313.0" r="1.95" fill="#1450cc"/>
<circle cx="505.6" cy="337.4" r="1.95" fill="#1450cc"/>
<circle cx="505.6" cy="362.0" r="1.95" fill="#1450cc"/>
<circle cx="505.6" cy="372.0" r="1.95" fill="#1450cc"/>
<circle cx="505.6" cy="380.0" r="1.95" fill="#1450cc"/>
<circle cx="505.6" cy="386.0" r="1.95" fill="#1450cc"/>
<circle cx="505.6" cy="329.8" r="1.95" fill="#ea12ea"/>
<circle cx="505.6" cy="345.8" r="1.95" fill="#ea12ea"/>
<circle cx="505.6" cy="366.0" r="1.95" fill="#ea12ea"/>
</g>
<circle cx="254.9" cy="252.9" r="0.6" fill="#bbb"/>
<rect x="92" y="457.9" width="5.9" height="41.3" fill="#16521a"/>
<line x1="58.7" y1="440" x2="80.8" y2="440" stroke="#3d7fd6" stroke-width="1"/>
<circle cx="68.2" cy="440" r="1.5" fill="#1a50c0"/>
<text x="88" y="443.2" font-size="9.7" font-weight="normal" fill="#444" text-anchor="start" font-family='"Liberation Sans", sans-serif'>NDF</text>
<line x1="121.3" y1="440" x2="144" y2="440" stroke="#e23be2" stroke-width="1"/>
<circle cx="131.4" cy="440" r="1.5" fill="#d010d0"/>
<text x="151.5" y="443.2" font-size="9.7" font-weight="normal" fill="#444" text-anchor="start" font-family='"Liberation Sans", sans-serif'>TDF</text>
<text transform="translate(537.9 32) scale(1.1 1)" font-size="29" font-weight="bold" font-family='"Liberation Sans", sans-serif'>b</text>
<path d="M591.2,39.5 H668.5 V194.8" fill="none" stroke="#444" stroke-width="1"/>
<path d="M591.2,39.0 V194.4 H668.5" fill="none" stroke="#2e2e2e" stroke-width="1.15"/>
<line x1="587.2" y1="194.40" x2="591.2" y2="194.40" stroke="#2e2e2e" stroke-width="1.1"/>
<text x="587.3000000000001" y="198.80" font-size="13" font-weight="bold" text-anchor="end" font-family='"Liberation Sans", sans-serif'>0.0</text>
<line x1="587.2" y1="155.68" x2="591.2" y2="155.68" stroke="#2e2e2e" stroke-width="1.1"/>
<text x="587.3000000000001" y="160.08" font-size="13" font-weight="bold" text-anchor="end" font-family='"Liberation Sans", sans-serif'>0.2</text>
<line x1="587.2" y1="116.95" x2="591.2" y2="116.95" stroke="#2e2e2e" stroke-width="1.1"/>
<text x="587.3000000000001" y="121.35" font-size="13" font-weight="bold" text-anchor="end" font-family='"Liberation Sans", sans-serif'>0.4</text>
<line x1="587.2" y1="78.23" x2="591.2" y2="78.23" stroke="#2e2e2e" stroke-width="1.1"/>
<text x="587.3000000000001" y="82.63" font-size="13" font-weight="bold" text-anchor="end" font-family='"Liberation Sans", sans-serif'>0.6</text>
<line x1="587.2" y1="39.50" x2="591.2" y2="39.50" stroke="#2e2e2e" stroke-width="1.1"/>
<text x="587.3000000000001" y="43.90" font-size="13" font-weight="bold" text-anchor="end" font-family='"Liberation Sans", sans-serif'>0.8</text>
<line x1="589.2" y1="175.04" x2="591.2" y2="175.04" stroke="#2e2e2e" stroke-width="1"/>
<line x1="589.2" y1="136.31" x2="591.2" y2="136.31" stroke="#2e2e2e" stroke-width="1"/>
<line x1="589.2" y1="97.59" x2="591.2" y2="97.59" stroke="#2e2e2e" stroke-width="1"/>
<line x1="589.2" y1="58.86" x2="591.2" y2="58.86" stroke="#2e2e2e" stroke-width="1"/>
<line x1="610.5" y1="194.4" x2="610.5" y2="198.6" stroke="#2e2e2e" stroke-width="1.1"/>
<text x="610.5" y="210.4" font-size="12" font-weight="bold" text-anchor="middle" font-family='"Liberation Sans", sans-serif'>NDF</text>
<line x1="649.4" y1="194.4" x2="649.4" y2="198.6" stroke="#2e2e2e" stroke-width="1.1"/>
<text x="649.4" y="210.4" font-size="12" font-weight="bold" text-anchor="middle" font-family='"Liberation Sans", sans-serif'>TDF</text>
<line x1="597.6" y1="137.10" x2="623.4" y2="137.10" stroke="#000" stroke-width="1.4"/>
<line x1="636.1999999999999" y1="159.50" x2="661.8" y2="159.50" stroke="#000" stroke-width="1.4"/>
<path d="M610.60,64.10 L613.55,69.60 L607.65,69.60 Z" fill="none" stroke="#1010d0" stroke-width="1.4" stroke-linejoin="miter"/>
<path d="M610.60,101.00 L613.55,106.50 L607.65,106.50 Z" fill="none" stroke="#1010d0" stroke-width="1.4" stroke-linejoin="miter"/>
<path d="M610.60,118.70 L613.55,124.20 L607.65,124.20 Z" fill="none" stroke="#1010d0" stroke-width="1.4" stroke-linejoin="miter"/>
<path d="M618.70,125.70 L621.65,131.20 L615.75,131.20 Z" fill="none" stroke="#1010d0" stroke-width="1.4" stroke-linejoin="miter"/>
<path d="M602.60,131.10 L605.55,136.60 L599.65,136.60 Z" fill="none" stroke="#1010d0" stroke-width="1.4" stroke-linejoin="miter"/>
<path d="M610.60,135.40 L613.55,140.90 L607.65,140.90 Z" fill="none" stroke="#1010d0" stroke-width="1.4" stroke-linejoin="miter"/>
<path d="M615.50,145.70 L618.45,151.20 L612.55,151.20 Z" fill="none" stroke="#1010d0" stroke-width="1.4" stroke-linejoin="miter"/>
<path d="M605.60,152.20 L608.55,157.70 L602.65,157.70 Z" fill="none" stroke="#1010d0" stroke-width="1.4" stroke-linejoin="miter"/>
<path d="M602.60,157.50 L605.55,163.00 L599.65,163.00 Z" fill="none" stroke="#1010d0" stroke-width="1.4" stroke-linejoin="miter"/>
<path d="M618.50,155.80 L621.45,161.30 L615.55,161.30 Z" fill="none" stroke="#1010d0" stroke-width="1.4" stroke-linejoin="miter"/>
<path d="M610.60,165.10 L613.55,170.60 L607.65,170.60 Z" fill="none" stroke="#1010d0" stroke-width="1.4" stroke-linejoin="miter"/>
<path d="M610.60,174.70 L613.55,180.20 L607.65,180.20 Z" fill="none" stroke="#1010d0" stroke-width="1.4" stroke-linejoin="miter"/>
<circle cx="649.10" cy="98.70" r="2.95" fill="none" stroke="#d01818" stroke-width="1.35"/>
<circle cx="649.10" cy="149.90" r="2.95" fill="none" stroke="#d01818" stroke-width="1.35"/>
<circle cx="641.00" cy="154.60" r="2.95" fill="none" stroke="#d01818" stroke-width="1.35"/>
<circle cx="649.10" cy="159.80" r="2.95" fill="none" stroke="#d01818" stroke-width="1.35"/>
<circle cx="661.50" cy="158.70" r="2.95" fill="none" stroke="#d01818" stroke-width="1.35"/>
<circle cx="641.00" cy="166.80" r="2.95" fill="none" stroke="#d01818" stroke-width="1.35"/>
<circle cx="657.30" cy="165.20" r="2.95" fill="none" stroke="#d01818" stroke-width="1.35"/>
<circle cx="649.10" cy="171.20" r="2.95" fill="none" stroke="#d01818" stroke-width="1.35"/>
<circle cx="653.90" cy="181.90" r="2.95" fill="none" stroke="#d01818" stroke-width="1.35"/>
<circle cx="644.40" cy="186.50" r="2.95" fill="none" stroke="#d01818" stroke-width="1.35"/>
<path d="M634.0,59.7 H650.2 V74.39999999999999" fill="none" stroke="#7f7f7f" stroke-width="1.7"/>
<path d="M623.1,59.7 L634.5,54.900000000000006 L634.5,64.5 Z" fill="#7f7f7f"/>
<path d="M650.2,85.3 L645.4000000000001,73.89999999999999 L655.0,73.89999999999999 Z" fill="#7f7f7f"/>
<text x="645" y="59.4" font-size="16.5" font-weight="bold" text-anchor="middle" letter-spacing="0" font-family='"Liberation Sans", sans-serif'>*</text>
<text x="629.3" y="28" font-size="12.1" text-anchor="middle" font-family='"Liberation Sans", sans-serif'>TSS -152</text>
<text x="555.8" y="117.9" font-size="12.9" font-weight="bold" text-anchor="middle" font-family='"Liberation Sans", sans-serif' transform="rotate(-90 555.8 117.9)">cg03221266 β-value</text>
<path d="M591.2,282.9 H668.3 V438.4" fill="none" stroke="#444" stroke-width="1"/>
<path d="M591.2,282.4 V438.0 H668.3" fill="none" stroke="#2e2e2e" stroke-width="1.15"/>
<line x1="587.2" y1="438.00" x2="591.2" y2="438.00" stroke="#2e2e2e" stroke-width="1.1"/>
<text x="587.3000000000001" y="442.40" font-size="13" font-weight="bold" text-anchor="end" font-family='"Liberation Sans", sans-serif'>0.0</text>
<line x1="587.2" y1="386.30" x2="591.2" y2="386.30" stroke="#2e2e2e" stroke-width="1.1"/>
<text x="587.3000000000001" y="390.70" font-size="13" font-weight="bold" text-anchor="end" font-family='"Liberation Sans", sans-serif'>0.2</text>
<line x1="587.2" y1="334.60" x2="591.2" y2="334.60" stroke="#2e2e2e" stroke-width="1.1"/>
<text x="587.3000000000001" y="339.00" font-size="13" font-weight="bold" text-anchor="end" font-family='"Liberation Sans", sans-serif'>0.4</text>
<line x1="587.2" y1="282.90" x2="591.2" y2="282.90" stroke="#2e2e2e" stroke-width="1.1"/>
<text x="587.3000000000001" y="287.30" font-size="13" font-weight="bold" text-anchor="end" font-family='"Liberation Sans", sans-serif'>0.6</text>
<line x1="589.2" y1="412.15" x2="591.2" y2="412.15" stroke="#2e2e2e" stroke-width="1"/>
<line x1="589.2" y1="360.45" x2="591.2" y2="360.45" stroke="#2e2e2e" stroke-width="1"/>
<line x1="589.2" y1="308.75" x2="591.2" y2="308.75" stroke="#2e2e2e" stroke-width="1"/>
<line x1="610.5" y1="438.0" x2="610.5" y2="442.2" stroke="#2e2e2e" stroke-width="1.1"/>
<text x="610.5" y="454.0" font-size="12" font-weight="bold" text-anchor="middle" font-family='"Liberation Sans", sans-serif'>NDF</text>
<line x1="649.4" y1="438.0" x2="649.4" y2="442.2" stroke="#2e2e2e" stroke-width="1.1"/>
<text x="649.4" y="454.0" font-size="12" font-weight="bold" text-anchor="middle" font-family='"Liberation Sans", sans-serif'>TDF</text>
<line x1="597.6" y1="361.30" x2="623.4" y2="361.30" stroke="#000" stroke-width="1.4"/>
<line x1="636.1999999999999" y1="403.90" x2="661.8" y2="403.90" stroke="#000" stroke-width="1.4"/>
<path d="M610.60,302.00 L613.55,307.50 L607.65,307.50 Z" fill="none" stroke="#1010d0" stroke-width="1.4" stroke-linejoin="miter"/>
<path d="M610.60,315.30 L613.55,320.80 L607.65,320.80 Z" fill="none" stroke="#1010d0" stroke-width="1.4" stroke-linejoin="miter"/>
<path d="M610.60,335.30 L613.55,340.80 L607.65,340.80 Z" fill="none" stroke="#1010d0" stroke-width="1.4" stroke-linejoin="miter"/>
<path d="M602.00,346.90 L604.95,352.40 L599.05,352.40 Z" fill="none" stroke="#1010d0" stroke-width="1.4" stroke-linejoin="miter"/>
<path d="M618.50,346.90 L621.45,352.40 L615.55,352.40 Z" fill="none" stroke="#1010d0" stroke-width="1.4" stroke-linejoin="miter"/>
<path d="M610.60,351.20 L613.55,356.70 L607.65,356.70 Z" fill="none" stroke="#1010d0" stroke-width="1.4" stroke-linejoin="miter"/>
<path d="M602.00,374.40 L604.95,379.90 L599.05,379.90 Z" fill="none" stroke="#1010d0" stroke-width="1.4" stroke-linejoin="miter"/>
<path d="M618.50,373.70 L621.45,379.20 L615.55,379.20 Z" fill="none" stroke="#1010d0" stroke-width="1.4" stroke-linejoin="miter"/>
<path d="M610.60,375.90 L613.55,381.40 L607.65,381.40 Z" fill="none" stroke="#1010d0" stroke-width="1.4" stroke-linejoin="miter"/>
<path d="M610.60,385.80 L613.55,391.30 L607.65,391.30 Z" fill="none" stroke="#1010d0" stroke-width="1.4" stroke-linejoin="miter"/>
<path d="M610.60,400.20 L613.55,405.70 L607.65,405.70 Z" fill="none" stroke="#1010d0" stroke-width="1.4" stroke-linejoin="miter"/>
<path d="M610.60,416.30 L613.55,421.80 L607.65,421.80 Z" fill="none" stroke="#1010d0" stroke-width="1.4" stroke-linejoin="miter"/>
<circle cx="649.70" cy="337.10" r="2.95" fill="none" stroke="#d01818" stroke-width="1.35"/>
<circle cx="640.00" cy="403.20" r="2.95" fill="none" stroke="#d01818" stroke-width="1.35"/>
<circle cx="644.90" cy="405.40" r="2.95" fill="none" stroke="#d01818" stroke-width="1.35"/>
<circle cx="658.90" cy="402.20" r="2.95" fill="none" stroke="#d01818" stroke-width="1.35"/>
<circle cx="654.20" cy="408.60" r="2.95" fill="none" stroke="#d01818" stroke-width="1.35"/>
<circle cx="646.00" cy="410.70" r="2.95" fill="none" stroke="#d01818" stroke-width="1.35"/>
<circle cx="652.40" cy="414.40" r="2.95" fill="none" stroke="#d01818" stroke-width="1.35"/>
<circle cx="641.30" cy="417.80" r="2.95" fill="none" stroke="#d01818" stroke-width="1.35"/>
<circle cx="657.80" cy="420.00" r="2.95" fill="none" stroke="#d01818" stroke-width="1.35"/>
<circle cx="649.70" cy="424.30" r="2.95" fill="none" stroke="#d01818" stroke-width="1.35"/>
<path d="M634.0,303.3 H650.2 V318.1" fill="none" stroke="#7f7f7f" stroke-width="1.7"/>
<path d="M623.1,303.3 L634.5,298.5 L634.5,308.1 Z" fill="#7f7f7f"/>
<path d="M650.2,329.0 L645.4000000000001,317.6 L655.0,317.6 Z" fill="#7f7f7f"/>
<text x="645.3" y="302.6" font-size="16.5" font-weight="bold" text-anchor="middle" letter-spacing="0.6" font-family='"Liberation Sans", sans-serif'>**</text>
<text x="629.9" y="271.8" font-size="12.1" text-anchor="middle" font-family='"Liberation Sans", sans-serif'>TSS +102</text>
<text x="555.8" y="360.2" font-size="12.9" font-weight="bold" text-anchor="middle" font-family='"Liberation Sans", sans-serif' transform="rotate(-90 555.8 360.2)">cg10894512 β-value</text>
<text transform="translate(9.7 558) scale(1.1 1)" font-size="30" font-weight="bold" font-family='"Liberation Sans", sans-serif'>c</text>
<text x="158.7" y="626" font-size="13.8" font-weight="bold" font-family='"Liberation Sans", sans-serif' transform="rotate(-90 158.7 626)">N.251</text>
<text x="202.8" y="626" font-size="13.8" font-weight="bold" font-family='"Liberation Sans", sans-serif' transform="rotate(-90 202.8 626)">T.251</text>
<text x="246.9" y="626" font-size="13.8" font-weight="bold" font-family='"Liberation Sans", sans-serif' transform="rotate(-90 246.9 626)">N.217</text>
<text x="290.6" y="626" font-size="13.8" font-weight="bold" font-family='"Liberation Sans", sans-serif' transform="rotate(-90 290.6 626)">T.217</text>
<text x="334.0" y="626" font-size="13.8" font-weight="bold" font-family='"Liberation Sans", sans-serif' transform="rotate(-90 334.0 626)">N.108</text>
<text x="378.3" y="626" font-size="13.8" font-weight="bold" font-family='"Liberation Sans", sans-serif' transform="rotate(-90 378.3 626)">T.108</text>
<text x="66.8" y="673.9" font-size="14.8" font-weight="bold" font-family='"Liberation Sans", sans-serif'>α-SMA</text>
<text x="65.3" y="724.8" font-size="13.5" font-weight="bold" font-family='"Liberation Sans", sans-serif'>HSC-70</text>
<filter id="bl1" x="-20%" y="-80%" width="140%" height="260%"><feGaussianBlur stdDeviation="0.9"/></filter>
<filter id="bl2" x="-20%" y="-80%" width="140%" height="260%"><feGaussianBlur stdDeviation="0.85"/></filter>
<rect x="132" y="648.2" width="274.5" height="34" fill="#f5f5f5"/>
<linearGradient id="g1" x1="0" x2="1" y1="0" y2="0"><stop offset="0" stop-color="#9a9a9a"/><stop offset="0.35" stop-color="#6e6e6e"/><stop offset="1" stop-color="#7a7a7a"/></linearGradient>
<rect x="129.9" y="696.2" width="282.2" height="54" fill="#eeeeee"/>
<rect x="133.5" y="659.6999999999999" width="41.5" height="6.4" rx="3.2" fill="url(#g1)" filter="url(#bl1)"/>
<rect x="179.8" y="657.0" width="43.0" height="11.2" rx="4" fill="#1c1c1c" filter="url(#bl1)"/>
<rect x="229.5" y="660.05" width="30.5" height="4.5" rx="2.25" fill="#ebebeb" filter="url(#bl1)"/>
<rect x="271.7" y="656.5" width="37.69999999999999" height="11.0" rx="4" fill="#4e4e4e" filter="url(#bl1)"/>
<rect x="315" y="658.2" width="34.39999999999998" height="5.6" rx="2.8" fill="#a6a6a6" filter="url(#bl1)"/>
<rect x="352.8" y="655.8" width="51.80000000000001" height="13.0" rx="4" fill="#181818" filter="url(#bl1)"/>
<path d="M140.00,717.90 L170.00,718.90 A2.50,2.50 0 0 1 170.00,723.90 L140.00,725.10 A3.20,3.60 0 0 1 140.00,717.90 Z" fill="#0c0c0c" filter="url(#bl2)"/>
<path d="M186.00,719.40 L218.90,719.60 A3.20,4.00 0 0 1 218.90,727.60 L186.00,726.80 A3.20,3.70 0 0 1 186.00,719.40 Z" fill="#0c0c0c" filter="url(#bl2)"/>
<path d="M234.00,721.80 L262.60,722.10 A3.20,3.90 0 0 1 262.60,729.90 L234.00,730.40 A3.20,4.30 0 0 1 234.00,721.80 Z" fill="#0c0c0c" filter="url(#bl2)"/>
<path d="M280.30,724.50 L307.80,724.20 A3.20,3.90 0 0 1 307.80,732.00 L280.30,731.30 A3.20,3.40 0 0 1 280.30,724.50 Z" fill="#0c0c0c" filter="url(#bl2)"/>
<path d="M323.50,725.50 L352.40,726.20 A2.80,2.80 0 0 1 352.40,731.80 L323.50,731.70 A3.10,3.10 0 0 1 323.50,725.50 Z" fill="#0c0c0c" filter="url(#bl2)"/>
<path d="M370.60,728.90 L402.50,730.40 A3.00,3.00 0 0 1 402.50,736.40 L370.60,735.10 A3.10,3.10 0 0 1 370.60,728.90 Z" fill="#0c0c0c" filter="url(#bl2)"/>
<ellipse cx="231.6" cy="719.8" rx="1.9" ry="2.9" fill="#111" filter="url(#bl2)"/>
<path d="M309.3,727.5 L312.8,719.2" stroke="#111" stroke-width="1.7" stroke-linecap="round" filter="url(#bl2)"/>
<path d="M403,733.5 L405.3,735.8" stroke="#111" stroke-width="1.8" stroke-linecap="round" filter="url(#bl2)"/>
<circle cx="412.2" cy="727.2" r="0.7" fill="#666" filter="url(#bl2)"/>
<text transform="translate(538.2 557.4) scale(1.07 1)" font-size="29" font-weight="bold" font-family='"Liberation Sans", sans-serif'>d</text>
<path d="M591.2,584.6 H668.3 V740.1" fill="none" stroke="#444" stroke-width="1"/>
<path d="M591.2,584.1 V739.7 H668.3" fill="none" stroke="#2e2e2e" stroke-width="1.15"/>
<line x1="587.2" y1="739.70" x2="591.2" y2="739.70" stroke="#2e2e2e" stroke-width="1.1"/>
<text x="587.3000000000001" y="744.10" font-size="12.2" font-weight="bold" text-anchor="end" font-family='"Liberation Sans", sans-serif'>0</text>
<line x1="587.2" y1="700.93" x2="591.2" y2="700.93" stroke="#2e2e2e" stroke-width="1.1"/>
<text x="587.3000000000001" y="705.33" font-size="12.2" font-weight="bold" text-anchor="end" font-family='"Liberation Sans", sans-serif'>1</text>
<line x1="587.2" y1="662.15" x2="591.2" y2="662.15" stroke="#2e2e2e" stroke-width="1.1"/>
<text x="587.3000000000001" y="666.55" font-size="12.2" font-weight="bold" text-anchor="end" font-family='"Liberation Sans", sans-serif'>2</text>
<line x1="587.2" y1="623.38" x2="591.2" y2="623.38" stroke="#2e2e2e" stroke-width="1.1"/>
<text x="587.3000000000001" y="627.77" font-size="12.2" font-weight="bold" text-anchor="end" font-family='"Liberation Sans", sans-serif'>3</text>
<line x1="587.2" y1="584.60" x2="591.2" y2="584.60" stroke="#2e2e2e" stroke-width="1.1"/>
<text x="587.3000000000001" y="589.00" font-size="12.2" font-weight="bold" text-anchor="end" font-family='"Liberation Sans", sans-serif'>4</text>
<line x1="589.2" y1="720.31" x2="591.2" y2="720.31" stroke="#2e2e2e" stroke-width="1"/>
<line x1="589.2" y1="681.54" x2="591.2" y2="681.54" stroke="#2e2e2e" stroke-width="1"/>
<line x1="589.2" y1="642.76" x2="591.2" y2="642.76" stroke="#2e2e2e" stroke-width="1"/>
<line x1="589.2" y1="603.99" x2="591.2" y2="603.99" stroke="#2e2e2e" stroke-width="1"/>
<line x1="610.7" y1="739.7" x2="610.7" y2="743.9000000000001" stroke="#2e2e2e" stroke-width="1.1"/>
<text x="610.7" y="755.7" font-size="12" font-weight="bold" text-anchor="middle" font-family='"Liberation Sans", sans-serif'>NDF</text>
<line x1="649.2" y1="739.7" x2="649.2" y2="743.9000000000001" stroke="#2e2e2e" stroke-width="1.1"/>
<text x="649.2" y="755.7" font-size="12" font-weight="bold" text-anchor="middle" font-family='"Liberation Sans", sans-serif'>TDF</text>
<line x1="597.8000000000001" y1="722.50" x2="623.6" y2="722.50" stroke="#000" stroke-width="1.4"/>
<line x1="636.0" y1="688.80" x2="661.6" y2="688.80" stroke="#000" stroke-width="1.4"/>
<path d="M610.70,705.30 L613.65,710.80 L607.75,710.80 Z" fill="none" stroke="#1010d0" stroke-width="1.4" stroke-linejoin="miter"/>
<path d="M610.70,721.00 L613.65,726.50 L607.75,726.50 Z" fill="none" stroke="#1010d0" stroke-width="1.4" stroke-linejoin="miter"/>
<path d="M610.70,737.00 L613.65,742.50 L607.75,742.50 Z" fill="none" stroke="#1010d0" stroke-width="1.4" stroke-linejoin="miter"/>
<circle cx="649.20" cy="615.60" r="2.95" fill="none" stroke="#d01818" stroke-width="1.35"/>
<circle cx="654.20" cy="688.30" r="2.95" fill="none" stroke="#d01818" stroke-width="1.35"/>
<circle cx="644.10" cy="694.10" r="2.95" fill="none" stroke="#d01818" stroke-width="1.35"/>
<text x="555.8" y="662.8" font-size="13.1" font-weight="bold" text-anchor="middle" font-family='"Liberation Sans", sans-serif' transform="rotate(-90 555.8 662.8)"><tspan font-family='"Liberation Serif", serif' font-weight="normal" font-size="13.5">α</tspan>-SMA expression</text>
<text transform="translate(10 810.2) scale(1.08 1)" font-size="29.5" font-weight="bold" font-family='"Liberation Sans", sans-serif'>e</text>
<path d="M57.5,830.4 H290.2 V985.6" fill="none" stroke="#444" stroke-width="1"/>
<path d="M57.5,829.9 V985.6 H290.2" fill="none" stroke="#2e2e2e" stroke-width="1.15"/>
<line x1="53.2" y1="985.60" x2="57.5" y2="985.60" stroke="#2e2e2e" stroke-width="1.1"/>
<text x="52.0" y="989.60" font-size="12" font-weight="bold" text-anchor="end" font-family='"Liberation Sans", sans-serif'>0.0</text>
<line x1="53.2" y1="954.56" x2="57.5" y2="954.56" stroke="#2e2e2e" stroke-width="1.1"/>
<text x="52.0" y="958.56" font-size="12" font-weight="bold" text-anchor="end" font-family='"Liberation Sans", sans-serif'>0.1</text>
<line x1="53.2" y1="923.52" x2="57.5" y2="923.52" stroke="#2e2e2e" stroke-width="1.1"/>
<text x="52.0" y="927.52" font-size="12" font-weight="bold" text-anchor="end" font-family='"Liberation Sans", sans-serif'>0.2</text>
<line x1="53.2" y1="892.48" x2="57.5" y2="892.48" stroke="#2e2e2e" stroke-width="1.1"/>
<text x="52.0" y="896.48" font-size="12" font-weight="bold" text-anchor="end" font-family='"Liberation Sans", sans-serif'>0.3</text>
<line x1="53.2" y1="861.44" x2="57.5" y2="861.44" stroke="#2e2e2e" stroke-width="1.1"/>
<text x="52.0" y="865.44" font-size="12" font-weight="bold" text-anchor="end" font-family='"Liberation Sans", sans-serif'>0.4</text>
<line x1="53.2" y1="830.40" x2="57.5" y2="830.40" stroke="#2e2e2e" stroke-width="1.1"/>
<text x="52.0" y="834.40" font-size="12" font-weight="bold" text-anchor="end" font-family='"Liberation Sans", sans-serif'>0.5</text>
<line x1="57.50" y1="985.6" x2="57.50" y2="989.9" stroke="#2e2e2e" stroke-width="1.1"/>
<text x="57.50" y="1001.6" font-size="11.8" font-weight="bold" text-anchor="middle" font-family='"Liberation Sans", sans-serif'>0</text>
<line x1="86.59" y1="985.6" x2="86.59" y2="987.8000000000001" stroke="#2e2e2e" stroke-width="1"/>
<line x1="115.67" y1="985.6" x2="115.67" y2="989.9" stroke="#2e2e2e" stroke-width="1.1"/>
<text x="115.67" y="1001.6" font-size="11.8" font-weight="bold" text-anchor="middle" font-family='"Liberation Sans", sans-serif'>1</text>
<line x1="144.76" y1="985.6" x2="144.76" y2="987.8000000000001" stroke="#2e2e2e" stroke-width="1"/>
<line x1="173.85" y1="985.6" x2="173.85" y2="989.9" stroke="#2e2e2e" stroke-width="1.1"/>
<text x="173.85" y="1001.6" font-size="11.8" font-weight="bold" text-anchor="middle" font-family='"Liberation Sans", sans-serif'>2</text>
<line x1="202.94" y1="985.6" x2="202.94" y2="987.8000000000001" stroke="#2e2e2e" stroke-width="1"/>
<line x1="232.02" y1="985.6" x2="232.02" y2="989.9" stroke="#2e2e2e" stroke-width="1.1"/>
<text x="232.02" y="1001.6" font-size="11.8" font-weight="bold" text-anchor="middle" font-family='"Liberation Sans", sans-serif'>3</text>
<line x1="261.11" y1="985.6" x2="261.11" y2="987.8000000000001" stroke="#2e2e2e" stroke-width="1"/>
<line x1="290.20" y1="985.6" x2="290.20" y2="989.9" stroke="#2e2e2e" stroke-width="1.1"/>
<text x="290.20" y="1001.6" font-size="11.8" font-weight="bold" text-anchor="middle" font-family='"Liberation Sans", sans-serif'>4</text>
<line x1="57.5" y1="907.3" x2="243.3" y2="962.0" stroke="#000" stroke-width="2.1"/>
<circle cx="58.1" cy="878.5" r="2.75" fill="none" stroke="#000" stroke-width="1.3"/>
<circle cx="58.1" cy="900.8" r="2.75" fill="none" stroke="#000" stroke-width="1.3"/>
<circle cx="58.1" cy="924.4" r="2.75" fill="none" stroke="#000" stroke-width="1.3"/>
<circle cx="58.1" cy="928.2" r="2.75" fill="none" stroke="#000" stroke-width="1.3"/>
<circle cx="58.1" cy="939.1" r="2.75" fill="none" stroke="#000" stroke-width="1.3"/>
<circle cx="83.5" cy="839.2" r="2.75" fill="none" stroke="#000" stroke-width="1.3"/>
<circle cx="83.5" cy="869.2" r="2.75" fill="none" stroke="#000" stroke-width="1.3"/>
<circle cx="83.5" cy="910.2" r="2.75" fill="none" stroke="#000" stroke-width="1.3"/>
<circle cx="83.5" cy="911.6" r="2.75" fill="none" stroke="#000" stroke-width="1.3"/>
<circle cx="83.5" cy="933.8" r="2.75" fill="none" stroke="#000" stroke-width="1.3"/>
<circle cx="106.3" cy="937.6" r="2.75" fill="none" stroke="#000" stroke-width="1.3"/>
<circle cx="106.3" cy="947" r="2.75" fill="none" stroke="#000" stroke-width="1.3"/>
<circle cx="106.3" cy="953.4" r="2.75" fill="none" stroke="#000" stroke-width="1.3"/>
<circle cx="106.3" cy="955.7" r="2.75" fill="none" stroke="#000" stroke-width="1.3"/>
<circle cx="106.3" cy="961" r="2.75" fill="none" stroke="#000" stroke-width="1.3"/>
<circle cx="125.4" cy="909.8" r="2.75" fill="none" stroke="#000" stroke-width="1.3"/>
<circle cx="125.4" cy="918.3" r="2.75" fill="none" stroke="#000" stroke-width="1.3"/>
<circle cx="125.4" cy="947.5" r="2.75" fill="none" stroke="#000" stroke-width="1.3"/>
<circle cx="125.4" cy="950.5" r="2.75" fill="none" stroke="#000" stroke-width="1.3"/>
<circle cx="125.4" cy="955.7" r="2.75" fill="none" stroke="#000" stroke-width="1.3"/>
<circle cx="133.6" cy="865" r="2.75" fill="none" stroke="#000" stroke-width="1.3"/>
<circle cx="133.6" cy="885" r="2.75" fill="none" stroke="#000" stroke-width="1.3"/>
<circle cx="133.6" cy="887.6" r="2.75" fill="none" stroke="#000" stroke-width="1.3"/>
<circle cx="133.6" cy="940.5" r="2.75" fill="none" stroke="#000" stroke-width="1.3"/>
<circle cx="133.6" cy="944.4" r="2.75" fill="none" stroke="#000" stroke-width="1.3"/>
<circle cx="243.3" cy="953.6" r="2.75" fill="none" stroke="#000" stroke-width="1.3"/>
<circle cx="243.3" cy="958.6" r="2.75" fill="none" stroke="#000" stroke-width="1.3"/>
<circle cx="243.3" cy="965.1" r="2.75" fill="none" stroke="#000" stroke-width="1.3"/>
<circle cx="243.3" cy="969.1" r="2.75" fill="none" stroke="#000" stroke-width="1.3"/>
<circle cx="243.3" cy="973.3" r="2.75" fill="none" stroke="#000" stroke-width="1.3"/>
<text x="209.2" y="852.7" font-size="13" font-family='"Liberation Sans", sans-serif'>R<tspan font-size="9.2" dy="-4.8">2</tspan><tspan dy="4.8">=0.2505</tspan></text>
<text x="209.2" y="868.3000000000001" font-size="13" font-family='"Liberation Sans", sans-serif'>p=0.0049</text>
<text x="173.8" y="1020.8" font-size="12.9" font-weight="bold" text-anchor="middle" font-family='"Liberation Sans", sans-serif'><tspan font-family='"Liberation Serif", serif' font-weight="normal" font-size="13.5">α</tspan>-SMA expression</text>
<text x="26.0" y="908.2" font-size="12.8" font-weight="bold" text-anchor="middle" font-family='"Liberation Sans", sans-serif' transform="rotate(-90 26.0 908.2)">ACTA2 var. 2 β-values</text>
<path d="M436.7,830.4 H669.2 V985.4" fill="none" stroke="#444" stroke-width="1"/>
<path d="M436.7,829.9 V985.4 H669.2" fill="none" stroke="#2e2e2e" stroke-width="1.15"/>
<line x1="432.4" y1="985.40" x2="436.7" y2="985.40" stroke="#2e2e2e" stroke-width="1.1"/>
<text x="431.2" y="989.40" font-size="12" font-weight="bold" text-anchor="end" font-family='"Liberation Sans", sans-serif'>0.0</text>
<line x1="432.4" y1="954.40" x2="436.7" y2="954.40" stroke="#2e2e2e" stroke-width="1.1"/>
<text x="431.2" y="958.40" font-size="12" font-weight="bold" text-anchor="end" font-family='"Liberation Sans", sans-serif'>0.1</text>
<line x1="432.4" y1="923.40" x2="436.7" y2="923.40" stroke="#2e2e2e" stroke-width="1.1"/>
<text x="431.2" y="927.40" font-size="12" font-weight="bold" text-anchor="end" font-family='"Liberation Sans", sans-serif'>0.2</text>
<line x1="432.4" y1="892.40" x2="436.7" y2="892.40" stroke="#2e2e2e" stroke-width="1.1"/>
<text x="431.2" y="896.40" font-size="12" font-weight="bold" text-anchor="end" font-family='"Liberation Sans", sans-serif'>0.3</text>
<line x1="432.4" y1="861.40" x2="436.7" y2="861.40" stroke="#2e2e2e" stroke-width="1.1"/>
<text x="431.2" y="865.40" font-size="12" font-weight="bold" text-anchor="end" font-family='"Liberation Sans", sans-serif'>0.4</text>
<line x1="432.4" y1="830.40" x2="436.7" y2="830.40" stroke="#2e2e2e" stroke-width="1.1"/>
<text x="431.2" y="834.40" font-size="12" font-weight="bold" text-anchor="end" font-family='"Liberation Sans", sans-serif'>0.5</text>
<line x1="436.70" y1="985.4" x2="436.70" y2="989.6999999999999" stroke="#2e2e2e" stroke-width="1.1"/>
<text x="436.70" y="1001.4" font-size="11.8" font-weight="bold" text-anchor="middle" font-family='"Liberation Sans", sans-serif'>0</text>
<line x1="465.76" y1="985.4" x2="465.76" y2="987.6" stroke="#2e2e2e" stroke-width="1"/>
<line x1="494.82" y1="985.4" x2="494.82" y2="989.6999999999999" stroke="#2e2e2e" stroke-width="1.1"/>
<text x="494.82" y="1001.4" font-size="11.8" font-weight="bold" text-anchor="middle" font-family='"Liberation Sans", sans-serif'>1</text>
<line x1="523.89" y1="985.4" x2="523.89" y2="987.6" stroke="#2e2e2e" stroke-width="1"/>
<line x1="552.95" y1="985.4" x2="552.95" y2="989.6999999999999" stroke="#2e2e2e" stroke-width="1.1"/>
<text x="552.95" y="1001.4" font-size="11.8" font-weight="bold" text-anchor="middle" font-family='"Liberation Sans", sans-serif'>2</text>
<line x1="582.01" y1="985.4" x2="582.01" y2="987.6" stroke="#2e2e2e" stroke-width="1"/>
<line x1="611.08" y1="985.4" x2="611.08" y2="989.6999999999999" stroke="#2e2e2e" stroke-width="1.1"/>
<text x="611.08" y="1001.4" font-size="11.8" font-weight="bold" text-anchor="middle" font-family='"Liberation Sans", sans-serif'>3</text>
<line x1="640.14" y1="985.4" x2="640.14" y2="987.6" stroke="#2e2e2e" stroke-width="1"/>
<line x1="669.20" y1="985.4" x2="669.20" y2="989.6999999999999" stroke="#2e2e2e" stroke-width="1.1"/>
<text x="669.20" y="1001.4" font-size="11.8" font-weight="bold" text-anchor="middle" font-family='"Liberation Sans", sans-serif'>4</text>
<line x1="436.7" y1="966.7" x2="623" y2="969.1" stroke="#000" stroke-width="2.1"/>
<circle cx="437.7" cy="958.5" r="2.75" fill="none" stroke="#000" stroke-width="1.3"/>
<circle cx="437.7" cy="960.7" r="2.75" fill="none" stroke="#000" stroke-width="1.3"/>
<circle cx="437.7" cy="969.6" r="2.75" fill="none" stroke="#000" stroke-width="1.3"/>
<circle cx="437.7" cy="972.3" r="2.75" fill="none" stroke="#000" stroke-width="1.3"/>
<circle cx="462.9" cy="954.8" r="2.75" fill="none" stroke="#000" stroke-width="1.3"/>
<circle cx="462.9" cy="967.4" r="2.75" fill="none" stroke="#000" stroke-width="1.3"/>
<circle cx="462.9" cy="970.4" r="2.75" fill="none" stroke="#000" stroke-width="1.3"/>
<circle cx="462.9" cy="973.8" r="2.75" fill="none" stroke="#000" stroke-width="1.3"/>
<circle cx="462.9" cy="980" r="2.75" fill="none" stroke="#000" stroke-width="1.3"/>
<circle cx="485.9" cy="954.8" r="2.75" fill="none" stroke="#000" stroke-width="1.3"/>
<circle cx="485.9" cy="960.4" r="2.75" fill="none" stroke="#000" stroke-width="1.3"/>
<circle cx="485.9" cy="967" r="2.75" fill="none" stroke="#000" stroke-width="1.3"/>
<circle cx="485.9" cy="973.8" r="2.75" fill="none" stroke="#000" stroke-width="1.3"/>
<circle cx="485.9" cy="975.6" r="2.75" fill="none" stroke="#000" stroke-width="1.3"/>
<circle cx="504.8" cy="959" r="2.75" fill="none" stroke="#000" stroke-width="1.3"/>
<circle cx="504.8" cy="961.5" r="2.75" fill="none" stroke="#000" stroke-width="1.3"/>
<circle cx="504.8" cy="966.7" r="2.75" fill="none" stroke="#000" stroke-width="1.3"/>
<circle cx="504.8" cy="970.4" r="2.75" fill="none" stroke="#000" stroke-width="1.3"/>
<circle cx="504.8" cy="973.3" r="2.75" fill="none" stroke="#000" stroke-width="1.3"/>
<circle cx="513.4" cy="951.6" r="2.75" fill="none" stroke="#000" stroke-width="1.3"/>
<circle cx="513.4" cy="959.3" r="2.75" fill="none" stroke="#000" stroke-width="1.3"/>
<circle cx="513.4" cy="963.7" r="2.75" fill="none" stroke="#000" stroke-width="1.3"/>
<circle cx="513.4" cy="968.9" r="2.75" fill="none" stroke="#000" stroke-width="1.3"/>
<circle cx="513.4" cy="974.4" r="2.75" fill="none" stroke="#000" stroke-width="1.3"/>
<circle cx="623" cy="959" r="2.75" fill="none" stroke="#000" stroke-width="1.3"/>
<circle cx="623" cy="965.7" r="2.75" fill="none" stroke="#000" stroke-width="1.3"/>
<circle cx="623" cy="971.1" r="2.75" fill="none" stroke="#000" stroke-width="1.3"/>
<circle cx="623" cy="974.3" r="2.75" fill="none" stroke="#000" stroke-width="1.3"/>
<circle cx="623" cy="976.7" r="2.75" fill="none" stroke="#000" stroke-width="1.3"/>
<text x="588.2" y="851.2" font-size="13" font-family='"Liberation Sans", sans-serif'>R<tspan font-size="9.2" dy="-4.8">2</tspan><tspan dy="4.8">=0.0209</tspan></text>
<text x="588.2" y="866.8000000000001" font-size="13" font-family='"Liberation Sans", sans-serif'>p=0.3615</text>
<text x="553.0" y="1020.8" font-size="12.9" font-weight="bold" text-anchor="middle" font-family='"Liberation Sans", sans-serif'><tspan font-family='"Liberation Serif", serif' font-weight="normal" font-size="13.5">α</tspan>-SMA expression</text>
<text x="405.9" y="908.2" font-size="12.8" font-weight="bold" text-anchor="middle" font-family='"Liberation Sans", sans-serif' transform="rotate(-90 405.9 908.2)">ACTA2 var. 1 &amp; 3 β-values</text>
</svg></body></html>
